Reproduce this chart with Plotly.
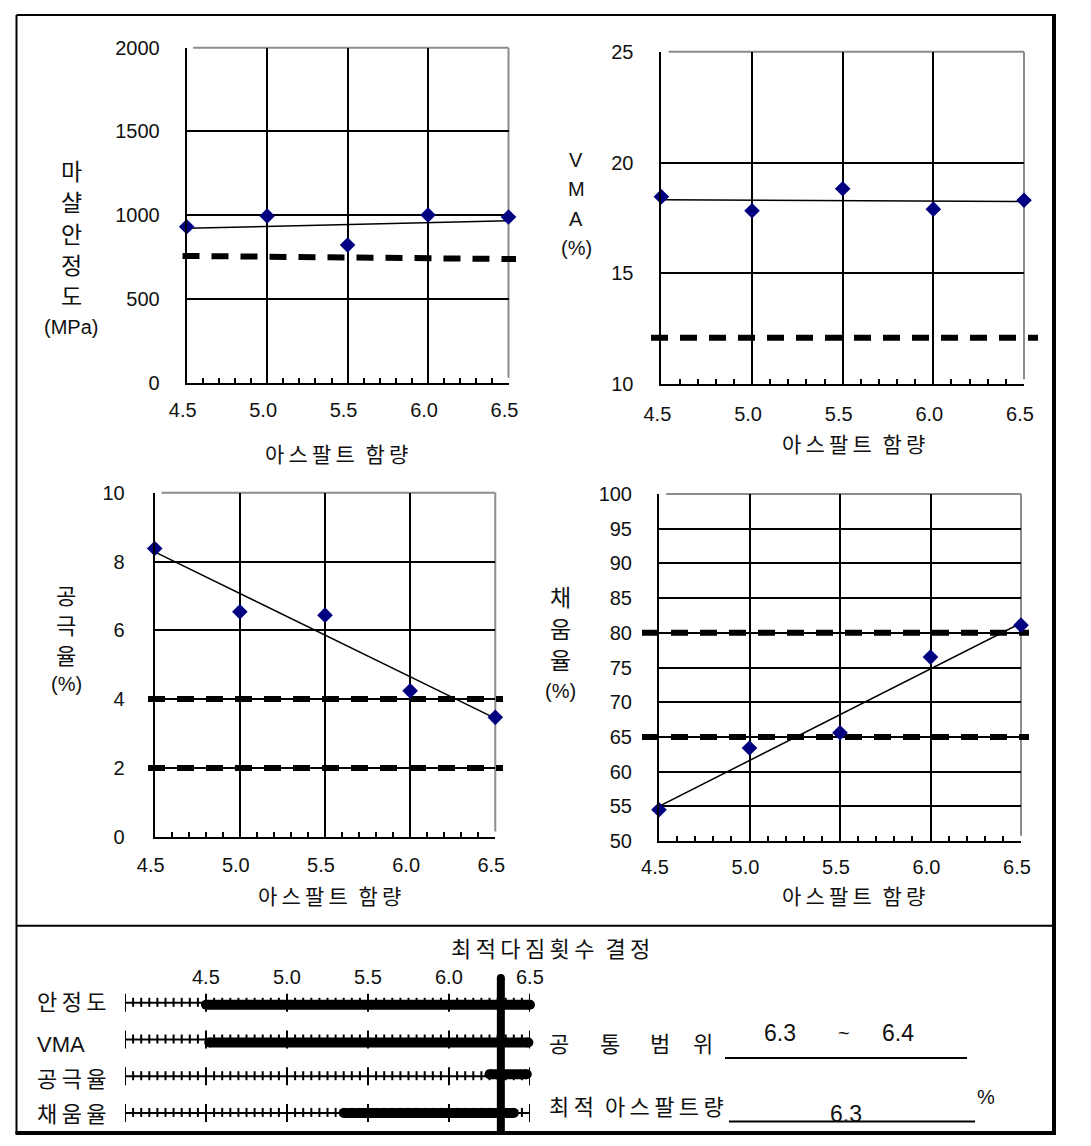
import numpy as np
import plotly.graph_objects as go

W, H = 1091, 1146

# ---------------- data ----------------
asphalt = [4.5, 5.0, 5.5, 6.0, 6.5]
asphalt_labels = ["4.5", "5.0", "5.5", "6.0", "6.5"]
trend_x = [4.5, 6.5]

stability = [931, 995, 822, 1001, 989]
stability_trend = [922, 967]
stability_crit = [757, 738]

vma = [18.46, 17.83, 18.82, 17.90, 18.30]
vma_trend = [18.32, 18.24]
vma_crit = [12.1, 12.1]

air_voids = [8.38, 6.54, 6.44, 4.24, 3.47]
air_trend = [8.28, 3.44]
air_crit = [4, 2]

vfa = [54.5, 63.4, 65.6, 76.5, 81.1]
vfa_trend = [55.0, 81.4]
vfa_crit = [80, 65]

# bottom panel (optimum determination)
row_names = ["안정도", "VMA", "공극율", "채움율"]
range_lo = [4.5, 4.52, 6.25, 5.35]
range_hi = [6.5, 6.49, 6.48, 6.40]
ruler_min, ruler_max = 4.0, 6.5
scale_ticks = [4.5, 5.0, 5.5, 6.0, 6.5]
scale_labels = ["4.5", "5.0", "5.5", "6.0", "6.5"]
opt_line = 6.32
common_lo, common_hi = "6.3", "6.4"
opt_value = "6.3"

FONT = "Liberation Sans, Noto Sans CJK KR, sans-serif"
KFONT = "Noto Sans CJK KR, Liberation Sans, sans-serif"
TXT = "#111111"
THIN = "\u2009"
EN = "\u2002"


def spaced(s):
    """Widen Korean letter spacing (Gulim-like): thin spaces inside words, en space between words."""
    return EN.join(THIN.join(list(wd)) if not wd.isascii() else wd for wd in s.split(" "))


def px_x(p):
    return p / W


def px_y(p):
    return 1 - p / H


fig = go.Figure()

# panel geometry in pixels: (left, right), (top, bottom)
panels = [
    dict(x=(186.7, 508.5), y=(47.7, 382.7), rng=[0, 2000], dt=500, std_x=8, std_y=21,
         vals=stability, trend=stability_trend, crit=[stability_crit], crit_x=(182.5, 516)),
    dict(x=(661.4, 1024.0), y=(51.7, 384.3), rng=[10, 25], dt=5, std_x=11, std_y=22,
         vals=vma, trend=vma_trend, crit=[vma_crit], crit_x=(651, 1038)),
    dict(x=(154.7, 495.3), y=(492.7, 836.7), rng=[0, 10], dt=2, std_x=9, std_y=24,
         vals=air_voids, trend=air_trend, crit=[[air_crit[0]] * 2, [air_crit[1]] * 2], crit_x=(148, 503)),
    dict(x=(659.0, 1021.0), y=(494.0, 841.0), rng=[50, 100], dt=5, std_x=7, std_y=21,
         vals=vfa, trend=vfa_trend, crit=[[vfa_crit[0]] * 2, [vfa_crit[1]] * 2], crit_x=(642, 1029)),
]

shapes = []
annotations = []

for i, p in enumerate(panels, start=1):
    xa = "x" if i == 1 else f"x{i}"
    ya = "y" if i == 1 else f"y{i}"
    xkey = "xaxis" if i == 1 else f"xaxis{i}"
    ykey = "yaxis" if i == 1 else f"yaxis{i}"
    fig.update_layout({
        xkey: dict(
            domain=[px_x(p["x"][0]), px_x(p["x"][1])], anchor=ya, automargin=False,
            range=[4.5, 6.5], tickmode="array", tickvals=asphalt, ticktext=asphalt_labels,
            showgrid=True, gridcolor="black", gridwidth=2,
            showline=True, linecolor="black", linewidth=2, zeroline=False,
            ticks="inside", ticklen=5, tickwidth=2, tickcolor="black",
            minor=dict(dtick=0.1, ticks="inside", ticklen=5, tickwidth=2, tickcolor="black", showgrid=False),
            tickfont=dict(family=FONT, size=20, color=TXT),
            ticklabelstandoff=p["std_x"], ticklabelshift=-4, fixedrange=True,
        ),
        ykey: dict(
            domain=[px_y(p["y"][1]), px_y(p["y"][0])], anchor=xa, automargin=False,
            range=p["rng"], dtick=p["dt"], tick0=p["rng"][0],
            showgrid=True, gridcolor="black", gridwidth=2,
            showline=True, linecolor="black", linewidth=2, zeroline=False,
            ticks="", tickfont=dict(family=FONT, size=20, color=TXT),
            ticklabelstandoff=p["std_y"], fixedrange=True,
        ),
    })
    # gray top/right frame
    shapes.append(dict(type="line", xref=f"{xa} domain", yref=f"{ya} domain", x0=0.02, x1=1, y0=1, y1=1,
                       line=dict(color="#8c8c8c", width=2), layer="below"))
    shapes.append(dict(type="line", xref=f"{xa} domain", yref=f"{ya} domain", x0=1, x1=1, y0=0.015, y1=1,
                       line=dict(color="#8c8c8c", width=2), layer="below"))
    # criteria dashed lines (extend a bit past the plot area)
    w = p["x"][1] - p["x"][0]
    cx0 = (p["crit_x"][0] - p["x"][0]) / w
    cx1 = (p["crit_x"][1] - p["x"][0]) / w
    for c in p["crit"]:
        shapes.append(dict(type="line", xref=f"{xa} domain", yref=ya, x0=cx0, x1=cx1, y0=c[0], y1=c[1],
                           line=dict(color="black", width=6, dash="17px,12px"), layer="below"))
    # trend line
    fig.add_trace(go.Scatter(x=trend_x, y=p["trend"], mode="lines", xaxis=xa, yaxis=ya,
                             line=dict(color="black", width=1.5), showlegend=False, hoverinfo="skip"))
    # data points
    fig.add_trace(go.Scatter(x=asphalt, y=p["vals"], mode="markers", xaxis=xa, yaxis=ya, cliponaxis=False,
                             marker=dict(symbol="diamond", size=12, color="#000080"), showlegend=False))


def ann(text, x, y, size=22, family=KFONT, xanchor="center", yanchor="middle", xref="paper", yref="paper",
        textangle=0, yshift=0):
    annotations.append(dict(text=text, x=x, y=y, xref=xref, yref=yref, showarrow=False,
                            xanchor=xanchor, yanchor=yanchor, textangle=textangle, yshift=yshift,
                            font=dict(family=family, size=size, color=TXT)))


# x-axis titles
for cx, cy in [(336, 453), (853, 443), (329, 895), (853, 895)]:
    ann(spaced("아스팔트 함량"), px_x(cx), px_y(cy), size=21)

# y-axis titles (stacked characters)
for k, ch in enumerate(["마", "샬", "안", "정", "도", "(MPa)"]):
    ann(ch, px_x(71), px_y(170 + 31.3 * k), size=20 if ch.startswith("(") else 23,
        family=FONT if ch.startswith("(") else KFONT)
for k, ch in enumerate(["V", "M", "A", "(%)"]):
    ann(ch, px_x(576), px_y(160 + 29.3 * k), size=20, family=FONT)
for k, ch in enumerate(["공", "극", "율", "(%)"]):
    ann(ch, px_x(66), px_y(594 + 30 * k), size=20 if ch.startswith("(") else 22,
        family=FONT if ch.startswith("(") else KFONT)
for k, ch in enumerate(["채", "움", "율", "(%)"]):
    ann(ch, px_x(560), px_y(596 + 31.5 * k), size=20 if ch.startswith("(") else 23,
        family=FONT if ch.startswith("(") else KFONT)

# ---------------- bottom panel ----------------
ROW_PX = 36.7            # pixel pitch between rows
ROW0_PX = 1002.8         # pixel position of first row
PANEL_TOP, PANEL_BOT = 925, 1133
y_top = (PANEL_TOP - ROW0_PX) / ROW_PX
y_bot = (PANEL_BOT - ROW0_PX) / ROW_PX
fig.update_layout(
    xaxis5=dict(domain=[px_x(125), px_x(530)], range=[ruler_min, ruler_max], anchor="y5", visible=False,
                fixedrange=True, automargin=False),
    yaxis5=dict(domain=[px_y(PANEL_BOT), px_y(PANEL_TOP)], range=[y_bot, y_top], anchor="x5", visible=False,
                fixedrange=True, automargin=False),
)


def u(pxl):
    return pxl / ROW_PX


ticks = np.round(np.arange(ruler_min, ruler_max + 1e-9, 0.05), 2)
bar_off = [2, 3, -2, 0]
label_off = [0, 5, 3, 2]
for r, name in enumerate(row_names):
    tx, ty = [], []
    for t in ticks:
        major = abs(t * 2 - round(t * 2)) < 1e-6
        up, dn = (9, 9) if major else (5, 4)
        tx += [t, t, None]
        ty += [r - u(up), r + u(dn), None]
    fig.add_trace(go.Scatter(x=tx, y=ty, mode="lines", xaxis="x5", yaxis="y5",
                             line=dict(color="black", width=2), showlegend=False, hoverinfo="skip"))
    fig.add_trace(go.Scatter(x=[ruler_min, ruler_max], y=[r, r], mode="lines", xaxis="x5", yaxis="y5",
                             line=dict(color="black", width=2), showlegend=False, hoverinfo="skip"))
    fig.add_trace(go.Scatter(x=[range_lo[r], range_hi[r]], y=[r + u(bar_off[r])] * 2, mode="lines+markers",
                             xaxis="x5", yaxis="y5", cliponaxis=False,
                             line=dict(color="black", width=10), marker=dict(size=10, color="black"),
                             showlegend=False, hoverinfo="skip"))
    ann(spaced(name), px_x(35), r, size=22, family=FONT, xanchor="left", yref="y5", yshift=-label_off[r])

# optimum vertical line
top_y = (978 - ROW0_PX) / ROW_PX
fig.add_trace(go.Scatter(x=[opt_line, opt_line], y=[top_y, y_bot], mode="lines", xaxis="x5", yaxis="y5",
                         line=dict(color="black", width=8), showlegend=False, hoverinfo="skip"))
fig.add_trace(go.Scatter(x=[opt_line], y=[top_y], mode="markers", xaxis="x5", yaxis="y5", cliponaxis=False,
                         marker=dict(size=8, color="black"), showlegend=False, hoverinfo="skip"))

# scale labels
for v, lab in zip(scale_ticks, scale_labels):
    ann(lab, v, px_y(977), size=20, family=FONT, xref="x5")

ann(spaced("최적다짐횟수 결정"), px_x(550), px_y(947), size=22)
for cx, ch in zip([559, 610, 660, 703], ["공", "통", "범", "위"]):
    ann(ch, px_x(cx), px_y(1042), size=22)
ann(common_lo, px_x(780), px_y(1033), size=23, family=FONT)
ann("~", px_x(844), px_y(1033), size=20, family=FONT)
ann(common_hi, px_x(898), px_y(1033), size=23, family=FONT)
ann(spaced("최적 아스팔트량"), px_x(547), px_y(1105), size=22, xanchor="left")
ann(opt_value, px_x(846), px_y(1114), size=23, family=FONT)
ann("%", px_x(986), px_y(1097), size=20, family=FONT)

shapes.append(dict(type="line", xref="paper", yref="paper", x0=px_x(725), x1=px_x(967), y0=px_y(1058),
                   y1=px_y(1058), line=dict(color="black", width=2)))
shapes.append(dict(type="line", xref="paper", yref="paper", x0=px_x(729), x1=px_x(975), y0=px_y(1121.5),
                   y1=px_y(1121.5), line=dict(color="black", width=2)))

# outer frame
shapes += [
    dict(type="line", xref="paper", yref="paper", x0=px_x(16.5), x1=px_x(1055), y0=px_y(15), y1=px_y(15),
         line=dict(color="black", width=2)),
    dict(type="line", xref="paper", yref="paper", x0=px_x(16.5), x1=px_x(16.5), y0=px_y(15), y1=px_y(1134),
         line=dict(color="black", width=2)),
    dict(type="line", xref="paper", yref="paper", x0=px_x(1054), x1=px_x(1054), y0=px_y(14), y1=px_y(1135),
         line=dict(color="black", width=4)),
    dict(type="line", xref="paper", yref="paper", x0=px_x(15.5), x1=px_x(1056), y0=px_y(1133), y1=px_y(1133),
         line=dict(color="black", width=4)),
    dict(type="line", xref="paper", yref="paper", x0=px_x(16.5), x1=px_x(1054), y0=px_y(925.7),
         y1=px_y(925.7), line=dict(color="black", width=2)),
]

fig.update_layout(
    width=W, height=H, autosize=False,
    margin=dict(l=0, r=0, t=0, b=0, pad=0, autoexpand=False),
    paper_bgcolor="white", plot_bgcolor="white",
    shapes=shapes, annotations=annotations, showlegend=False,
    font=dict(family=FONT, color=TXT),
)

fig.write_html("out.html", config={"displayModeBar": False})
